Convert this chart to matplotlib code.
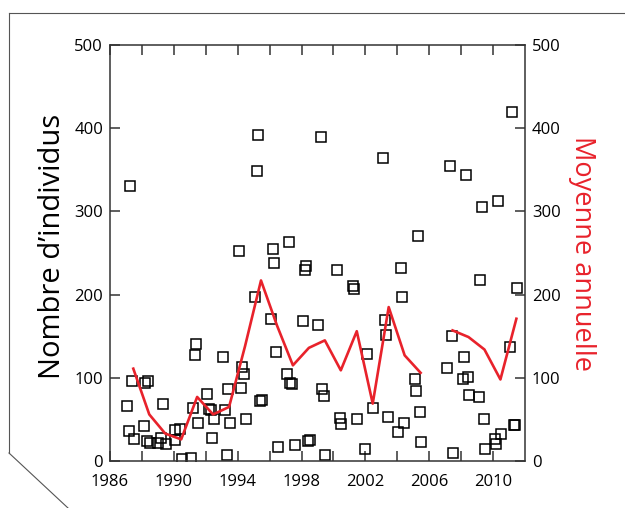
import numpy as np
import matplotlib
matplotlib.use("Agg")
import matplotlib.pyplot as plt
from matplotlib.lines import Line2D

plt.rcParams['font.family'] = ['Open Sans', 'DejaVu Sans']

# individual counts (decimal date, count)
obs_date = [1987.08, 1987.4, 1987.2, 1987.5, 1987.27, 1988.2, 1988.4, 1988.1, 1988.3, 1988.5,
            1989.3, 1989.2, 1989.0, 1989.5, 1990.1, 1990.4, 1990.1, 1990.5,
            1991.06, 1991.2, 1991.3, 1991.4, 1991.5, 1992.1, 1992.2, 1992.3, 1992.5, 1992.4,
            1993.1, 1993.2, 1993.4, 1993.5, 1993.3,
            1994.27, 1994.4, 1994.2, 1994.5, 1994.1,
            1995.06, 1995.4, 1995.5, 1995.3, 1995.2,
            1996.1, 1996.2, 1996.4, 1996.5, 1996.3,
            1997.1, 1997.3, 1997.4, 1997.6, 1997.2,
            1998.1, 1998.2, 1998.3, 1998.4, 1998.5,
            1999.06, 1999.3, 1999.4, 1999.5, 1999.2,
            2000.2, 2000.4, 2000.5, 2001.2, 2001.3, 2001.5,
            2002.0, 2002.1, 2002.5,
            2003.1, 2003.2, 2003.3, 2003.4,
            2004.06, 2004.2, 2004.3, 2004.4,
            2005.1, 2005.2, 2005.3, 2005.4, 2005.5,
            2007.1, 2007.3, 2007.4, 2007.5,
            2008.1, 2008.2, 2008.3, 2008.4, 2008.5,
            2009.1, 2009.2, 2009.3, 2009.4, 2009.5,
            2010.1, 2010.2, 2010.3, 2010.5,
            2011.06, 2011.2, 2011.3, 2011.4, 2011.5]
obs_count = [66, 96, 36, 27, 330, 94, 96, 42, 24, 22,
             68, 28, 22, 21, 37, 39, 25, 2,
             4, 64, 127, 141, 46, 80, 62, 61, 50, 28,
             125, 61, 86, 46, 7,
             113, 104, 88, 51, 253,
             197, 72, 73, 392, 349,
             171, 255, 131, 17, 238,
             105, 94, 92, 19, 263,
             168, 230, 234, 24, 25,
             163, 86, 78, 7, 389,
             230, 52, 44, 210, 207, 51,
             15, 129, 64,
             364, 170, 151, 53,
             35, 232, 197, 46,
             98, 84, 270, 59, 23,
             112, 354, 150, 10,
             98, 125, 344, 101, 79,
             77, 218, 305, 50, 14,
             26, 20, 313, 32,
             137, 420, 43, 43, 208]

# annual mean
years = [1987, 1988, 1989, 1990, 1991, 1992, 1993, 1994, 1995, 1996, 1997, 1998, 1999,
         2000, 2001, 2002, 2003, 2004, 2005, 2006, 2007, 2008, 2009, 2010, 2011]
annual_mean = [111, 56, 33, 26, 77, 56, 65, 138, 217, 163, 115, 136, 145,
               109, 156, 69, 185, 127, 106, np.nan, 157, 149, 134, 98, 171]

xticks = list(range(1986, 2012, 2))
yticks = [0, 100, 200, 300, 400, 500]

axis_col = '#333333'
red = '#e8222b'

fig = plt.figure(figsize=(6.25, 5.08), dpi=100)
ax = fig.add_axes([0.176, 0.0925, 0.664, 0.8189])

ax.plot(obs_date, obs_count, linestyle='none', marker='s', markersize=6.5,
        markerfacecolor='none', markeredgecolor='black', markeredgewidth=1.1)
ax.plot(np.array(years) + 0.46, annual_mean, color=red, linewidth=1.9)

ax.set_xlim(1986, 2012)
ax.set_ylim(0, 500)
ax.set_xticks(xticks)
ax.set_xticklabels([str(y) if (y - 1986) % 4 == 0 else '' for y in xticks])
ax.set_yticks(yticks)

for s in ax.spines.values():
    s.set_color(axis_col)
    s.set_linewidth(1.1)

# right-hand axis, same scale
ax2 = ax.twinx()
ax2.set_ylim(0, 500)
ax2.set_yticks(yticks)
for s in ax2.spines.values():
    s.set_visible(False)

ax.tick_params(direction='in', length=7, width=1.1, color=axis_col,
               labelsize=12, top=True, pad=5)
ax.tick_params(axis='x', pad=9)
ax2.tick_params(direction='in', length=7, width=1.1, color=axis_col,
                labelsize=12, pad=5)

fig.text(53 / 625, 1 - 246 / 508, 'Nombre d\u2019individus', fontsize=21,
         rotation=90, ha='center', va='center')
fig.text(582 / 625, 1 - 254 / 508, 'Moyenne annuelle', fontsize=19.5, color=red,
         rotation=270, ha='center', va='center')

# frame decoration
fig.add_artist(Line2D([9 / 625, 1.0], [1 - 13 / 508, 1 - 13 / 508], color='#555555', lw=0.8))
fig.add_artist(Line2D([9 / 625, 9 / 625], [1 - 13 / 508, 1 - 453 / 508], color='#555555', lw=0.8))
fig.add_artist(Line2D([9 / 625, 68 / 625], [1 - 453 / 508, 0.0], color='#555555', lw=0.8))

fig.savefig('out.png', dpi=100)
